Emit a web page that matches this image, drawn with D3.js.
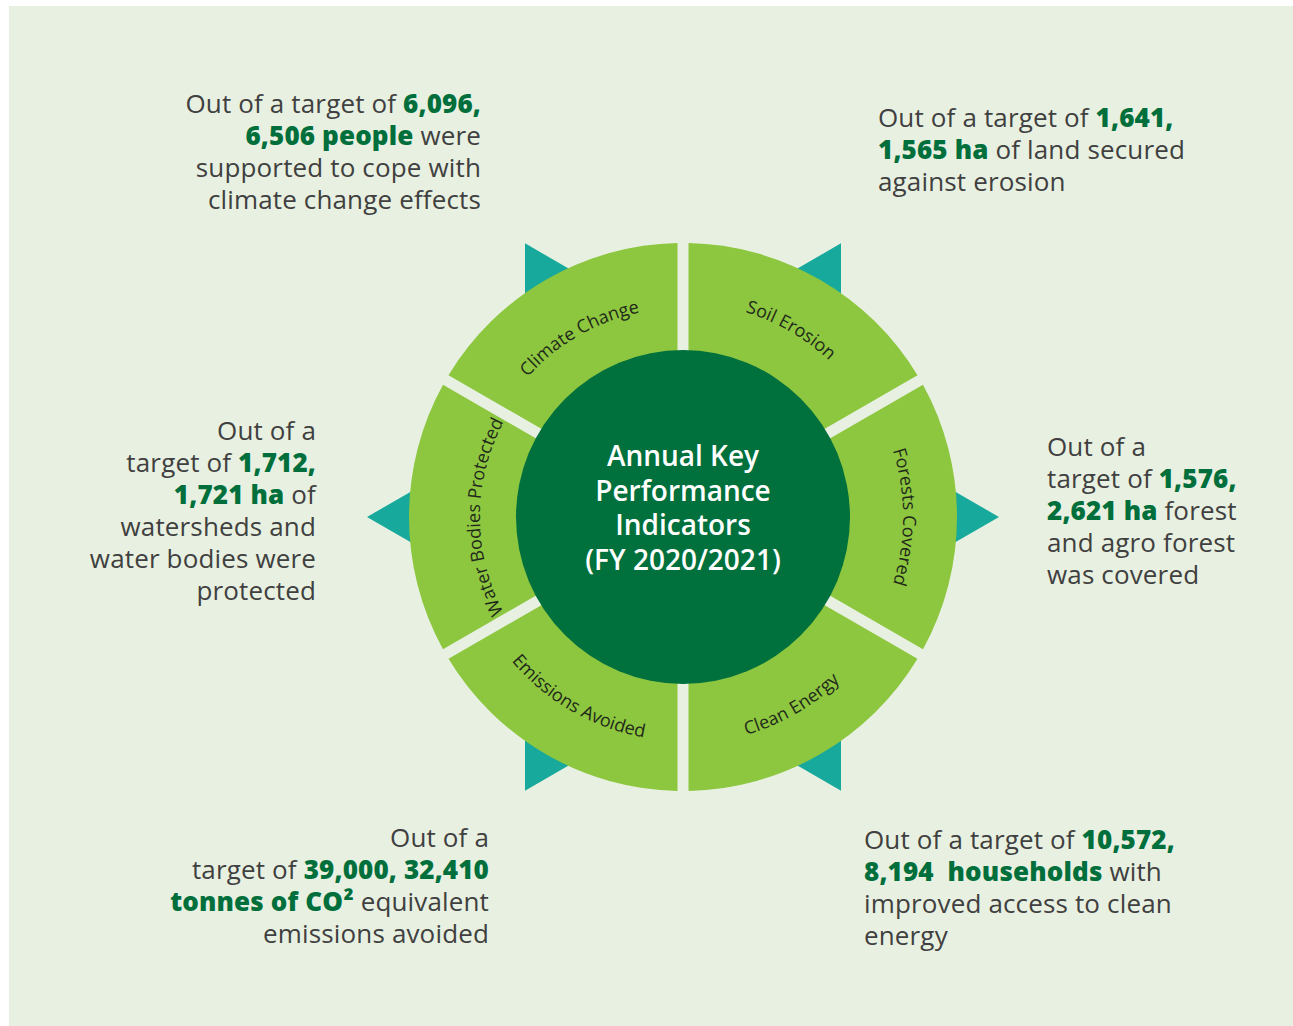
<!DOCTYPE html>
<html>
<head>
<meta charset="utf-8">
<script src="https://cdn.jsdelivr.net/npm/d3@7"></script>
<style>
  body { margin: 0; background: #ffffff; }
  svg text { font-family: "Open Sans", "Noto Sans", sans-serif; }
</style>
</head>
<body>
<script>
var width = 1293;
var height = 1026;

// segments, clockwise from the top
var categories = ['Soil Erosion', 'Forests Covered', 'Clean Energy', 'Emissions Avoided', 'Water Bodies Protected', 'Climate Change'];
var targets = ['1,641', '1,576', '10,572', '39,000', '1,712', '6,096'];
var achieved = ['1,565', '2,621', '8,194', '32,410', '1,721', '6,506'];
var units = ['ha', 'ha', 'households', 'tonnes of CO\u00b2', 'ha', 'people'];

var centerLines = ['Annual Key', 'Performance', 'Indicators', '(FY 2020/2021)'];

// annotation lines, **...** = bold green
var notes = [
    ['Out of a target of **' + targets[0] + ',**', '**' + achieved[0] + ' ' + units[0] + '** of land secured', 'against erosion'],
    ['Out of a', 'target of **' + targets[1] + ',**', '**' + achieved[1] + ' ' + units[1] + '** forest', 'and agro forest', 'was covered'],
    ['Out of a target of **' + targets[2] + ',**', '**' + achieved[2] + '  ' + units[2] + '** with', 'improved access to clean', 'energy'],
    ['Out of a', 'target of **' + targets[3] + ', ' + achieved[3] + '**', '**' + units[3] + '** equivalent', 'emissions avoided'],
    ['Out of a', 'target of **' + targets[4] + ',**', '**' + achieved[4] + ' ' + units[4] + '** of', 'watersheds and', 'water bodies were', 'protected'],
    ['Out of a target of **' + targets[5] + ',**', '**' + achieved[5] + ' ' + units[5] + '** were', 'supported to cope with', 'climate change effects']
];

var cx = 683, cy = 517;
var outerR = 274, innerR = 167, starR = 316;
var gap = 11;
var bg = '#e8f1e1';

var notePos = [
    { x: 878, y: 127, anchor: 'start' },
    { x: 1047, y: 456, anchor: 'start' },
    { x: 864, y: 849, anchor: 'start' },
    { x: 489, y: 847, anchor: 'end' },
    { x: 316, y: 440, anchor: 'end' },
    { x: 481, y: 113, anchor: 'end' }
];
// label radius (centre of the letters) and direction
var labelR = [219, 225, 222, 219, 208, 214];
var labelOut = [true, true, false, false, true, true];

var svg = d3.select('body')
    .append('svg')
    .attr('width', width)
    .attr('height', height);

svg.append('rect')
    .attr('x', 9)
    .attr('y', 6)
    .attr('width', width - 9)
    .attr('height', height - 6)
    .attr('fill', bg);

var g = svg.append('g')
    .attr('transform', 'translate(' + cx + ',' + cy + ')');

// teal star behind the ring
var toRad = Math.PI / 180;
var starLine = d3.line()
    .x(function(a) { return starR * Math.sin(a * toRad); })
    .y(function(a) { return -starR * Math.cos(a * toRad); })
    .curve(d3.curveLinearClosed);

g.selectAll('path.star')
    .data([[30, 150, 270], [90, 210, 330]])
    .enter()
    .append('path')
    .attr('class', 'star')
    .attr('d', starLine)
    .attr('fill', '#17a99c');

// hide the star inside the ring so the gaps show the background
g.append('circle')
    .attr('r', outerR - 1)
    .attr('fill', bg);

var pie = d3.pie()
    .value(function() { return 1; })
    .sort(null);

var arcs = pie(categories);

var arc = d3.arc()
    .innerRadius(120)
    .outerRadius(outerR)
    .padRadius(outerR)
    .padAngle(gap / outerR);

g.selectAll('path.seg')
    .data(arcs)
    .enter()
    .append('path')
    .attr('class', 'seg')
    .attr('d', arc)
    .attr('fill', '#8dc63f');

g.append('circle')
    .attr('r', innerR)
    .attr('fill', '#00703c');

// label paths
var labelFont = 18;
g.selectAll('path.lp')
    .data(arcs)
    .enter()
    .append('path')
    .attr('class', 'lp')
    .attr('id', function(d, i) { return 'lp' + i; })
    .attr('fill', 'none')
    .attr('d', function(d, i) {
        var mid = (d.startAngle + d.endAngle) / 2;
        var span = 55 * toRad;
        var p = d3.path();
        var r, a0, a1;
        if (labelOut[i]) {
            r = labelR[i] - labelFont * 0.27;
            a0 = mid - span; a1 = mid + span;
        } else {
            r = labelR[i] + labelFont * 0.27;
            a0 = mid + span; a1 = mid - span;
        }
        p.moveTo(r * Math.sin(a0), -r * Math.cos(a0));
        p.arc(0, 0, r, a0 - Math.PI / 2, a1 - Math.PI / 2, !labelOut[i]);
        return p.toString();
    });

g.selectAll('text.lbl')
    .data(arcs)
    .enter()
    .append('text')
    .attr('class', 'lbl')
    .attr('font-size', labelFont)
    .attr('fill', '#1f2a1a')
    .append('textPath')
    .attr('href', function(d, i) { return '#lp' + i; })
    .attr('startOffset', '50%')
    .attr('text-anchor', 'middle')
    .text(function(d) { return d.data; });

// centre title
g.selectAll('text.title')
    .data(centerLines)
    .enter()
    .append('text')
    .attr('class', 'title')
    .attr('x', 0)
    .attr('y', function(d, i) { return -51 + i * 34.5; })
    .attr('text-anchor', 'middle')
    .attr('font-size', 28)
    .attr('font-weight', 600)
    .attr('fill', '#ffffff')
    .text(function(d) { return d; });

// annotations
notes.forEach(function(lines, k) {
    var pos = notePos[k];
    lines.forEach(function(line, j) {
        var t = svg.append('text')
            .attr('x', pos.x)
            .attr('y', pos.y + j * 32)
            .attr('text-anchor', pos.anchor)
            .attr('font-size', 26)
            .attr('letter-spacing', 0.15)
            .attr('fill', '#404040')
            .style('white-space', 'pre');
        line.split('**').forEach(function(part, m) {
            if (!part) return;
            var s = t.append('tspan').text(part);
            if (m % 2 === 1) {
                s.attr('font-weight', 800).attr('fill', '#006f3c');
            }
        });
    });
});
</script>
</body>
</html>
